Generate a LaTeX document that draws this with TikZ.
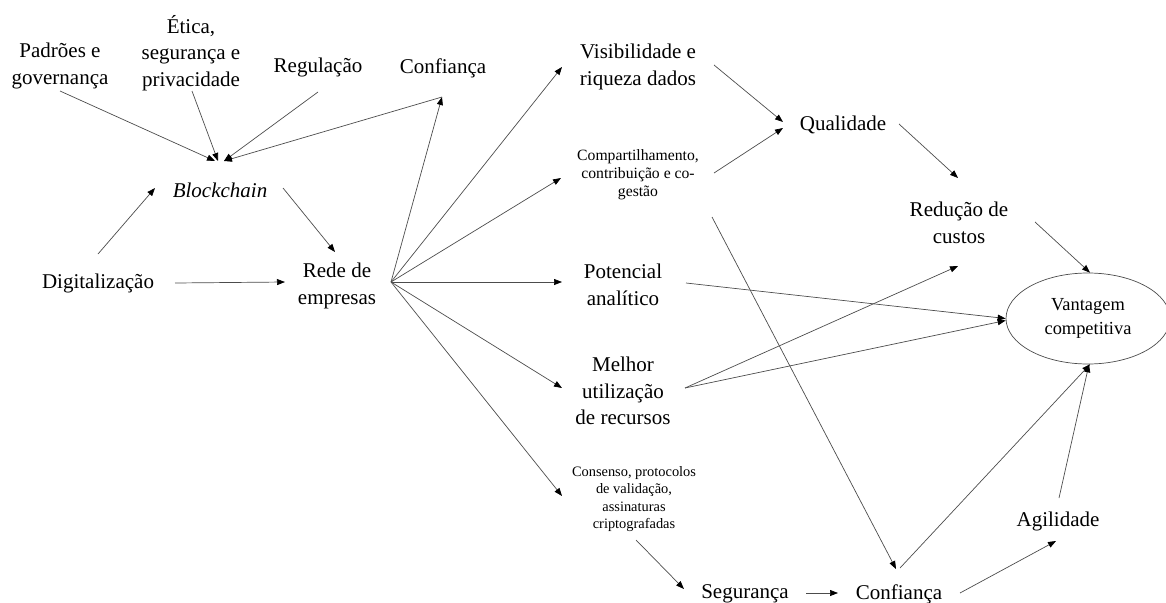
\documentclass[tikz,border=0pt]{standalone}
\usepackage{fontspec}
\setmainfont{Liberation Serif}
\usepackage{tikz}
\usetikzlibrary{positioning, arrows.meta, shapes.geometric}

\begin{document}
\begin{tikzpicture}[x=1pt, y=-1pt, draw=black!70,
		lbl/.style={align=center, inner sep=0pt, font=\fontsize{21}{26.5}\selectfont},
		smalllbl/.style={align=center, inner sep=0pt, font=\fontsize{15.7}{18}\selectfont},
		tinylbl/.style={align=center, inner sep=0pt, font=\fontsize{14.4}{17.3}\selectfont},
		arr/.style={line width=0.7pt, -{Triangle[length=8pt, width=6pt, color=black]}}]
		\useasboundingbox (0,0) rectangle (1166,602);
		%diagram
		\node[lbl] (padroes) at (60,66) {Padrões e\\governança};
		\node[lbl] (etica) at (191,53) {Ética,\\segurança e\\privacidade};
		\node[lbl] (regulacao) at (318,67) {Regulação};
		\node[lbl] (confiancaA) at (443,68) {Confiança};
		\node[lbl] (blockchain) at (220,190) {\textit{Blockchain}};
		\node[lbl] (digital) at (98,283) {Digitalização};
		\node[lbl] (rede) at (337,286) {Rede de\\empresas};
		\node[lbl] (visib) at (638,67) {Visibilidade e\\riqueza dados};
		\node[smalllbl] (compart) at (638,175) {Compartilhamento,\\contribuição e co-\\gestão};
		\node[lbl] (potencial) at (623,285) {Potencial\\analítico};
		\node[lbl] (melhor) at (623,391) {Melhor\\utilização\\de recursos};
		\node[tinylbl] (consenso) at (634,499) {Consenso, protocolos\\de validação,\\assinaturas\\criptografadas};
		\node[lbl] (qualidade) at (843,125) {Qualidade};
		\node[lbl] (reducao) at (959,223) {Redução de\\custos};
		\node[draw, ellipse, minimum width=164pt, minimum height=91pt, line width=0.7pt, align=center,
			font=\fontsize{18.4}{24}\selectfont] (vantagem) at (1088,318.5) {Vantagem\\competitiva};
		\node[lbl] (agilidade) at (1058,521) {Agilidade};
		\node[lbl] (seguranca) at (745,594) {Segurança};
		\node[lbl] (confiancaB) at (899,594) {Confiança};
		\coordinate (hub) at ([shift={(54,-4)}]rede.center);

		%arrows into blockchain
		\draw[arr] ([shift={(0,25)}]padroes.center) -- ([shift={(-5,-29)}]blockchain.center);
		\draw[arr] ([shift={(1,38)}]etica.center) -- ([shift={(-2,-29)}]blockchain.center);
		\draw[arr] ([shift={(0,25)}]regulacao.center) -- ([shift={(4,-29)}]blockchain.center);
		\draw[arr] ([shift={(-1,29)}]confiancaA.center) -- ([shift={(4,-29)}]blockchain.center);
		\draw[arr] ([shift={(0,-29)}]digital.center) -- ([shift={(-65,-2)}]blockchain.center);
		\draw[arr] ([shift={(63,-2)}]blockchain.center) -- ([shift={(-2,-34)}]rede.center);
		\draw[arr] ([shift={(77,0)}]digital.center) -- ([shift={(-52,-4)}]rede.center);

		%fan out of the network
		\draw[arr] (hub) -- ([shift={(-1,29)}]confiancaA.center);
		\draw[arr] (hub) -- ([shift={(-76,0)}]visib.center);
		\draw[arr] (hub) -- ([shift={(-77,3)}]compart.center);
		\draw[arr] (hub) -- ([shift={(-61,-3)}]potencial.center);
		\draw[arr] (hub) -- ([shift={(-61,-3)}]melhor.center);
		\draw[arr] (hub) -- ([shift={(-72,-3)}]consenso.center);

		%right half
		\draw[arr] ([shift={(76,-2)}]visib.center) -- ([shift={(-60,-3)}]qualidade.center);
		\draw[arr] ([shift={(76,-2)}]compart.center) -- ([shift={(-60,3)}]qualidade.center);
		\draw[arr] ([shift={(74,42)}]compart.center) -- ([shift={(-3,-25)}]confiancaB.center);
		\draw[arr] ([shift={(56,-1)}]qualidade.center) -- ([shift={(-1,-45)}]reducao.center);
		\draw[arr] ([shift={(76,-1)}]reducao.center) -- ([xshift=2pt]vantagem.north);
		\draw[arr] ([shift={(63,-2)}]potencial.center) -- (vantagem.west);
		\draw[arr] ([shift={(62,-3)}]melhor.center) -- ([shift={(-1,43)}]reducao.center);
		\draw[arr] ([shift={(62,-3)}]melhor.center) -- ([yshift=-2pt]vantagem.west);
		\draw[arr] ([shift={(2,41)}]consenso.center) -- ([shift={(-61,-5)}]seguranca.center);
		\draw[arr] ([shift={(61,-1)}]seguranca.center) -- ([shift={(-61,-1)}]confiancaB.center);
		\draw[arr] ([shift={(1,-26)}]confiancaB.center) -- ([xshift=2pt]vantagem.south);
		\draw[arr] ([shift={(61,-1)}]confiancaB.center) -- ([shift={(-2,20)}]agilidade.center);
		\draw[arr] ([shift={(1,-23)}]agilidade.center) -- ([xshift=1pt]vantagem.south);
\end{tikzpicture}
\end{document}
